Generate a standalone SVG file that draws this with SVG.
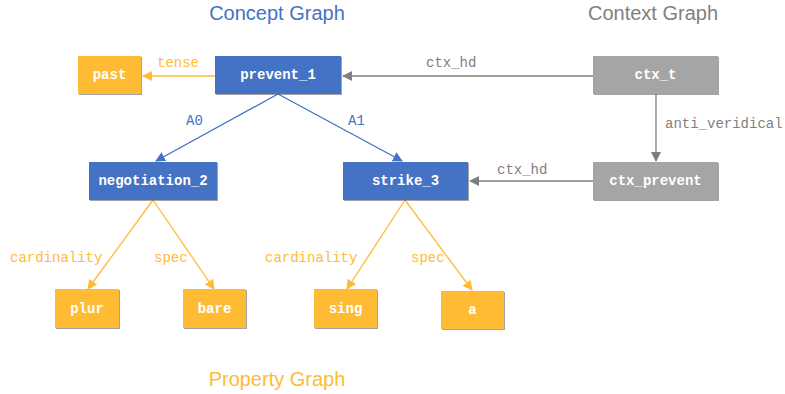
<svg xmlns="http://www.w3.org/2000/svg" width="785" height="394" viewBox="0 0 785 394">
<defs>
<style>
.title{font-family:"Liberation Sans",Arial,sans-serif;font-size:20px;text-anchor:middle}
.nl{font-family:"Liberation Mono","Courier New",monospace;font-size:14px;font-weight:bold;fill:#fff;text-anchor:middle;dominant-baseline:central}
.el{font-family:"Liberation Mono","Courier New",monospace;font-size:14px}
.blue{fill:#4472C4}
.orange{fill:#FFBB33}
.gray{fill:#A5A5A5}
.shadow{fill:#5a5a5a;opacity:0.55}
.eb{stroke:#4472C4;stroke-width:1.3;fill:none}
.eo{stroke:#FFBB33;stroke-width:1.3;fill:none}
.eg{stroke:#7F7F7F;stroke-width:1.3;fill:none}
</style>
<marker id="ab" markerWidth="10" markerHeight="10" refX="9" refY="5" orient="auto" markerUnits="userSpaceOnUse"><path d="M0,0 L10,5 L0,10 z" fill="#4472C4"/></marker>
<marker id="ao" markerWidth="10" markerHeight="10" refX="9" refY="5" orient="auto" markerUnits="userSpaceOnUse"><path d="M0,0 L10,5 L0,10 z" fill="#FFBB33"/></marker>
<marker id="ag" markerWidth="10" markerHeight="10" refX="9" refY="5" orient="auto" markerUnits="userSpaceOnUse"><path d="M0,0 L10,5 L0,10 z" fill="#7F7F7F"/></marker>
</defs>
<rect width="785" height="394" fill="#fff"/>
<text class="title" x="277" y="20" fill="#4472C4">Concept Graph</text>
<text class="title" x="653" y="20" fill="#7F7F7F">Context Graph</text>
<text class="title" x="277" y="386" fill="#FFBB33">Property Graph</text>

<g id="connectors">
<line class="eo" x1="215" y1="76" x2="143" y2="76" marker-end="url(#ao)"/>
<text class="el" x="157" y="67" fill="#FFBB33">tense</text>
<line class="eg" x1="593" y1="76" x2="343" y2="76" marker-end="url(#ag)"/>
<text class="el" x="426" y="67" fill="#7F7F7F">ctx_hd</text>
<line class="eg" x1="656" y1="94" x2="656" y2="161" marker-end="url(#ag)"/>
<text class="el" x="665" y="128" fill="#7F7F7F">anti_veridical</text>
<line class="eg" x1="593" y1="181" x2="470" y2="181" marker-end="url(#ag)"/>
<text class="el" x="497" y="174" fill="#7F7F7F">ctx_hd</text>
<line class="eb" x1="278" y1="94" x2="156" y2="161" marker-end="url(#ab)"/>
<text class="el" x="186" y="125" fill="#4472C4">A0</text>
<line class="eb" x1="278" y1="94" x2="402" y2="161" marker-end="url(#ab)"/>
<text class="el" x="348" y="125" fill="#4472C4">A1</text>
<line class="eo" x1="153" y1="200" x2="88" y2="289" marker-end="url(#ao)"/>
<text class="el" x="10" y="262" fill="#FFBB33">cardinality</text>
<line class="eo" x1="153" y1="200" x2="214" y2="289" marker-end="url(#ao)"/>
<text class="el" x="154" y="262" fill="#FFBB33">spec</text>
<line class="eo" x1="405" y1="200" x2="347" y2="289" marker-end="url(#ao)"/>
<text class="el" x="265" y="262" fill="#FFBB33">cardinality</text>
<line class="eo" x1="405" y1="200" x2="472" y2="290" marker-end="url(#ao)"/>
<text class="el" x="411" y="262" fill="#FFBB33">spec</text>
</g>

<g id="past"><rect class="shadow" x="79" y="57" width="63" height="38"/><rect class="orange" x="78" y="56" width="63" height="38"/><text class="nl" x="109.5" y="75">past</text></g>
<g id="prevent_1"><rect class="shadow" x="216" y="57" width="126" height="38"/><rect class="blue" x="215" y="56" width="126" height="38"/><text class="nl" x="278" y="75">prevent_1</text></g>
<g id="ctx_t"><rect class="shadow" x="594" y="57" width="125" height="38"/><rect class="gray" x="593" y="56" width="125" height="38"/><text class="nl" x="655.5" y="75">ctx_t</text></g>
<g id="negotiation_2"><rect class="shadow" x="90" y="163" width="128" height="38"/><rect class="blue" x="89" y="162" width="128" height="38"/><text class="nl" x="153" y="181">negotiation_2</text></g>
<g id="strike_3"><rect class="shadow" x="344" y="163" width="125" height="38"/><rect class="blue" x="343" y="162" width="125" height="38"/><text class="nl" x="405.5" y="181">strike_3</text></g>
<g id="ctx_prevent"><rect class="shadow" x="594" y="163" width="125" height="38"/><rect class="gray" x="593" y="162" width="125" height="38"/><text class="nl" x="655.5" y="181">ctx_prevent</text></g>
<g id="plur"><rect class="shadow" x="56" y="290" width="64" height="39"/><rect class="orange" x="55" y="289" width="64" height="39"/><text class="nl" x="87" y="308.5">plur</text></g>
<g id="bare"><rect class="shadow" x="184" y="290" width="63" height="39"/><rect class="orange" x="183" y="289" width="63" height="39"/><text class="nl" x="214.5" y="308.5">bare</text></g>
<g id="sing"><rect class="shadow" x="315" y="290" width="63" height="39"/><rect class="orange" x="314" y="289" width="63" height="39"/><text class="nl" x="345.5" y="308.5">sing</text></g>
<g id="a"><rect class="shadow" x="442" y="292" width="63" height="38"/><rect class="orange" x="441" y="291" width="63" height="38"/><text class="nl" x="472.5" y="310">a</text></g>
</svg>
